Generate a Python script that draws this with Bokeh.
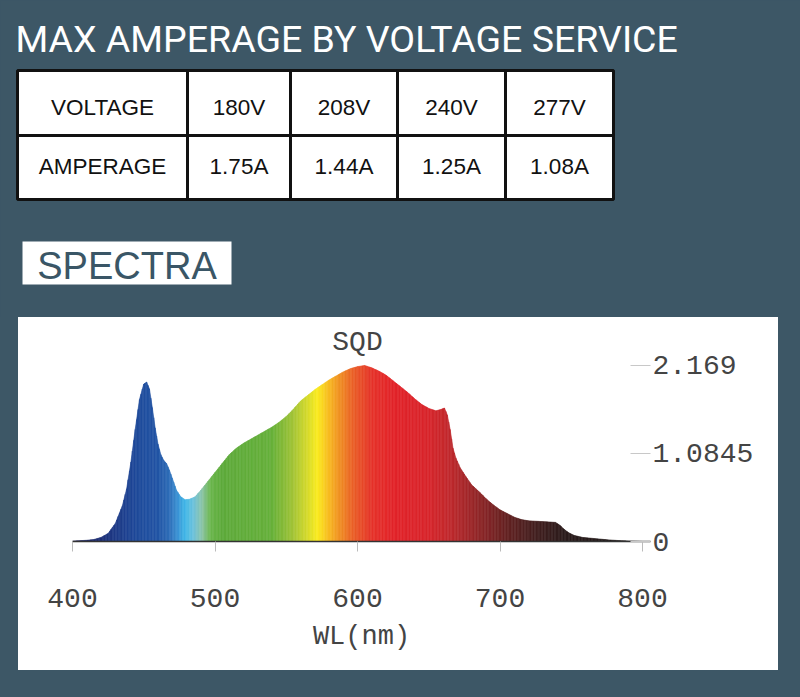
import math
from bokeh.plotting import figure
from bokeh.layouts import column, row
from bokeh.models import Range1d, FixedTicker, Label
from bokeh.embed import file_html
from bokeh.resources import INLINE
from bokeh.core.properties import value

# ---------------- data ----------------
TITLE = "MAX AMPERAGE BY VOLTAGE SERVICE"
ROW_HEADERS = ["VOLTAGE", "AMPERAGE"]
VOLTAGES = ["180V", "208V", "240V", "277V"]
AMPERAGES = ["1.75A", "1.44A", "1.25A", "1.08A"]
SECTION = "SPECTRA"
CHART_TITLE = "SQD"
X_LABEL = "WL(nm)"
X_TICKS = [400, 500, 600, 700, 800]
Y_TICKS = [0, 1.0845, 2.169]
Y_TICK_LABELS = ["0", "1.0845", "2.169"]

WAVELENGTH = [400, 405, 410, 415, 420, 425, 430, 435, 438, 441, 444, 447, 450, 452,
              454, 456, 458, 460, 462, 464, 466, 468, 470, 473, 476, 479, 482, 486,
              490, 495, 500, 505, 510, 515, 520, 525, 530, 535, 540, 545, 550, 555,
              560, 565, 570, 575, 580, 585, 590, 595, 600, 605, 610, 615, 620, 625,
              630, 635, 640, 645, 650, 655, 659, 661, 663, 665, 667, 669, 672, 676,
              680, 687, 690, 695, 700, 705, 710, 715, 720, 725, 730, 735, 739, 742,
              745, 748, 752, 758, 764, 770, 776, 782, 790, 795, 800]
SQD = [0.005, 0.01, 0.015, 0.025, 0.05, 0.10, 0.22, 0.44, 0.65, 0.98, 1.38, 1.75, 1.94, 1.965,
       1.88, 1.65, 1.40, 1.20, 1.07, 1.00, 0.96, 0.88, 0.78, 0.63, 0.55, 0.515, 0.52, 0.55,
       0.63, 0.74, 0.85, 0.96, 1.07, 1.15, 1.21, 1.26, 1.31, 1.36, 1.41, 1.47, 1.54, 1.63,
       1.73, 1.80, 1.87, 1.93, 1.99, 2.04, 2.09, 2.13, 2.155, 2.169, 2.14, 2.10, 2.05, 1.98,
       1.91, 1.84, 1.76, 1.69, 1.64, 1.61, 1.63, 1.645, 1.56, 1.38, 1.15, 1.03, 0.91, 0.80,
       0.70, 0.585, 0.53, 0.455, 0.39, 0.345, 0.30, 0.27, 0.255, 0.25, 0.245, 0.24, 0.235, 0.20,
       0.15, 0.11, 0.075, 0.05, 0.04, 0.03, 0.02, 0.013, 0.006, 0.003, 0.0]

# ---------------- styles ----------------
BG = "#3d5766"
COL_EDGES = [17, 187, 290, 397, 505, 613]
ROW_EDGES = [70, 135, 199]
ROW_TEXT_Y = [107, 166]
COLOR_STOPS = [
    (400, "#1c1f55"), (425, "#1f3580"), (445, "#1f4a9a"), (460, "#2255a5"),
    (468, "#2e6cb8"), (474, "#3b93d4"), (479, "#3fb6e8"), (485, "#6cc2dc"),
    (491, "#8cc4a8"), (497, "#6bb64c"), (505, "#5daa3b"), (540, "#66b03a"),
    (555, "#a2c436"), (565, "#d6da2a"), (572, "#fbec1e"), (579, "#f8c020"),
    (588, "#f08d23"), (598, "#ea5c27"), (610, "#e5342a"), (625, "#e3242a"),
    (650, "#d8252b"), (665, "#c0292d"), (685, "#902628"), (705, "#642222"),
    (725, "#432020"), (745, "#2c1c1c"), (800, "#1c1a1a"),
]


def _rgb(h):
    h = h.lstrip("#")
    return tuple(int(h[i:i + 2], 16) for i in (0, 2, 4))


def color_at(nm):
    for (a, ca), (b, cb) in zip(COLOR_STOPS[:-1], COLOR_STOPS[1:]):
        if a <= nm <= b:
            t = (nm - a) / (b - a)
            r0, g0, b0 = _rgb(ca)
            r1, g1, b1 = _rgb(cb)
            return "#%02x%02x%02x" % (round(r0 + (r1 - r0) * t), round(g0 + (g1 - g0) * t),
                                      round(b0 + (b1 - b0) * t))
    return COLOR_STOPS[-1][1]


# ---------------- header figure ----------------
head = figure(width=800, height=317, x_range=Range1d(0, 800), y_range=Range1d(317, 0),
              x_axis_type=None, y_axis_type=None, toolbar_location=None,
              output_backend="svg", min_border=0, background_fill_color=BG,
              border_fill_color=BG, outline_line_color=None)

head.text(x=[15], y=[38.5], text=[TITLE], text_font=value("Roboto"),
          text_font_size="37.5px", text_color="white", text_align="left",
          text_baseline="middle")

rows = [[ROW_HEADERS[0]] + VOLTAGES, [ROW_HEADERS[1]] + AMPERAGES]
ql, qr, qt, qb, tx, ty, tt = [], [], [], [], [], [], []
for r, rw in enumerate(rows):
    for c, txt in enumerate(rw):
        ql.append(COL_EDGES[c]); qr.append(COL_EDGES[c + 1])
        qt.append(ROW_EDGES[r]); qb.append(ROW_EDGES[r + 1])
        tx.append((COL_EDGES[c] + COL_EDGES[c + 1]) / 2)
        ty.append(ROW_TEXT_Y[r])
        tt.append(txt)
head.quad(left=ql, right=qr, top=qt, bottom=qb, fill_color="white",
          line_color="#111111", line_width=3)
head.text(x=tx, y=ty, text=tt, text_font=value("Liberation Sans"), text_font_size="22.5px",
          text_color="#111111", text_align="center", text_baseline="middle")

head.quad(left=[22], right=[231], top=[241], bottom=[284], fill_color="white", line_color=None)
head.text(x=[126.5], y=[265], text=[SECTION], text_font=value("Liberation Sans"),
          text_font_size="38px", text_color="#3a5666", text_align="center",
          text_baseline="middle")

# ---------------- spectrum figure ----------------
spec = figure(width=760, height=353, x_range=Range1d(400, 805.6), y_range=Range1d(0, 2.60),
              y_axis_location="right", toolbar_location=None, output_backend="svg",
              min_border_left=54, min_border_right=128, min_border_top=13,
              min_border_bottom=129, background_fill_color="white",
              border_fill_color="white", outline_line_color=None)
spec.grid.visible = False

xs, ys, cols = [], [], []
for i in range(len(WAVELENGTH) - 1):
    w0, w1 = WAVELENGTH[i], WAVELENGTH[i + 1]
    v0, v1 = SQD[i], SQD[i + 1]
    n = max(1, int(math.ceil(w1 - w0)))
    for k in range(n):
        a0, a1 = k / n, (k + 1) / n
        xa, xb = w0 + (w1 - w0) * a0, w0 + (w1 - w0) * a1
        ya, yb = v0 + (v1 - v0) * a0, v0 + (v1 - v0) * a1
        xs.append([xa, xb, xb, xa])
        ys.append([0, 0, yb, ya])
        cols.append(color_at((xa + xb) / 2))
spec.patches(xs, ys, fill_color=cols, line_color=cols, line_width=0.6)

xa = spec.xaxis[0]
xa.ticker = FixedTicker(ticks=X_TICKS)
xa.axis_line_color = "#333333"
xa.axis_line_width = 1.5
xa.major_tick_line_color = "#bbbbbb"
xa.major_tick_out = 10
xa.major_tick_in = 0
xa.minor_tick_line_color = None
xa.major_label_text_font = "Liberation Mono"
xa.major_label_text_font_size = "28px"
xa.major_label_text_color = "#444444"
xa.major_label_standoff = 37
xa.axis_label = X_LABEL
xa.axis_label_text_font = "Liberation Mono"
xa.axis_label_text_font_size = "27px"
xa.axis_label_text_font_style = "normal"
xa.axis_label_text_color = "#444444"
xa.axis_label_standoff = 12

ya_ = spec.yaxis[0]
ya_.ticker = FixedTicker(ticks=Y_TICKS)
ya_.major_label_overrides = {t: s for t, s in zip(Y_TICKS, Y_TICK_LABELS)}
ya_.axis_line_color = None
ya_.major_tick_in = 20
ya_.major_tick_out = 0
ya_.major_tick_line_color = "#c8c8c8"
ya_.minor_tick_line_color = None
ya_.major_label_standoff = 2
ya_.major_label_text_font = "Liberation Mono"
ya_.major_label_text_font_size = "28px"
ya_.major_label_text_color = "#444444"

spec.add_layout(Label(x=600, y=2.45, text=CHART_TITLE, text_font="Liberation Mono",
                      text_font_size="28px", text_color="#444444", text_align="center",
                      text_baseline="middle"))

spec_row = row(spec, margin=(0, 22, 27, 18), styles={"background-color": "white"})
p = column(head, spec_row, spacing=0, styles={"background-color": BG})

open("out.html", "w").write(file_html(p, INLINE))
